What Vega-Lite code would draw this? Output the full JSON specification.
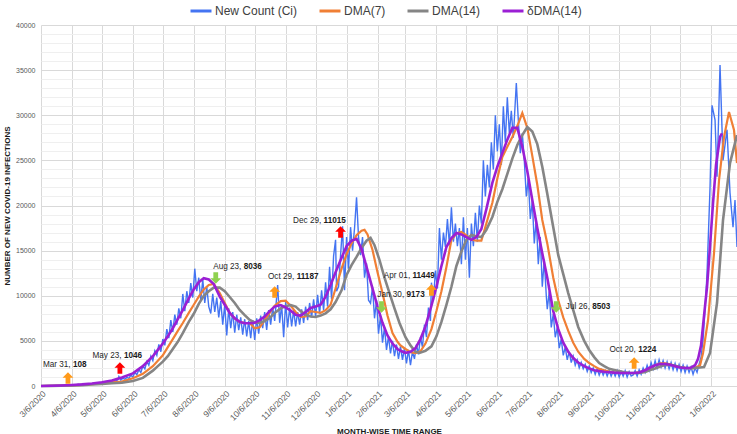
{
  "$schema": "https://vega.github.io/schema/vega-lite/v6.json",
  "width": 696,
  "height": 361,
  "autosize": {"type": "none"},
  "padding": {"left": 41, "top": 25, "right": 0, "bottom": 48},
  "background": "white",
  "config": {
    "font": "Liberation Sans",
    "view": {"stroke": null},
    "axis": {"labelFont": "Liberation Sans", "titleFont": "Liberation Sans"}
  },
  "datasets": {
    "ci": [
      {"d":"2020/03/06","v":0},{"d":"2020/03/09","v":2},{"d":"2020/03/12","v":8},{"d":"2020/03/15","v":20},{"d":"2020/03/18","v":35},{"d":"2020/03/21","v":50},{"d":"2020/03/24","v":70},{"d":"2020/03/27","v":90},{"d":"2020/03/29","v":80},{"d":"2020/03/31","v":108},
      {"d":"2020/04/02","v":90},{"d":"2020/04/04","v":130},{"d":"2020/04/06","v":110},{"d":"2020/04/08","v":150},{"d":"2020/04/10","v":120},{"d":"2020/04/12","v":170},{"d":"2020/04/14","v":140},{"d":"2020/04/16","v":190},{"d":"2020/04/18","v":160},{"d":"2020/04/20","v":220},{"d":"2020/04/22","v":180},{"d":"2020/04/24","v":250},{"d":"2020/04/26","v":210},{"d":"2020/04/28","v":280},{"d":"2020/04/30","v":240},
      {"d":"2020/05/02","v":320},{"d":"2020/05/04","v":280},{"d":"2020/05/06","v":380},{"d":"2020/05/08","v":330},{"d":"2020/05/10","v":450},{"d":"2020/05/12","v":390},{"d":"2020/05/14","v":520},{"d":"2020/05/16","v":460},{"d":"2020/05/18","v":600},{"d":"2020/05/20","v":540},{"d":"2020/05/22","v":700},{"d":"2020/05/23","v":1046},{"d":"2020/05/25","v":650},{"d":"2020/05/27","v":850},{"d":"2020/05/29","v":750},{"d":"2020/05/31","v":950},
      {"d":"2020/06/02","v":850},{"d":"2020/06/04","v":1200},{"d":"2020/06/06","v":1000},{"d":"2020/06/08","v":1500},{"d":"2020/06/10","v":1250},{"d":"2020/06/12","v":1800},{"d":"2020/06/14","v":1500},{"d":"2020/06/16","v":2200},{"d":"2020/06/18","v":1900},{"d":"2020/06/20","v":2700},{"d":"2020/06/22","v":2300},{"d":"2020/06/24","v":3300},{"d":"2020/06/26","v":2800},{"d":"2020/06/28","v":3900},{"d":"2020/06/30","v":3400},
      {"d":"2020/07/02","v":4600},{"d":"2020/07/04","v":3800},{"d":"2020/07/06","v":5200},{"d":"2020/07/08","v":4500},{"d":"2020/07/10","v":6300},{"d":"2020/07/12","v":5300},{"d":"2020/07/14","v":7300},{"d":"2020/07/16","v":6000},{"d":"2020/07/18","v":7900},{"d":"2020/07/20","v":6800},{"d":"2020/07/22","v":8600},{"d":"2020/07/24","v":7500},{"d":"2020/07/26","v":10200},{"d":"2020/07/28","v":8300},{"d":"2020/07/30","v":10500},
      {"d":"2020/08/01","v":9200},{"d":"2020/08/03","v":11400},{"d":"2020/08/05","v":9800},{"d":"2020/08/07","v":13000},{"d":"2020/08/09","v":10500},{"d":"2020/08/11","v":12000},{"d":"2020/08/13","v":9500},{"d":"2020/08/15","v":11800},{"d":"2020/08/17","v":9200},{"d":"2020/08/19","v":11000},{"d":"2020/08/21","v":8800},{"d":"2020/08/23","v":8036},{"d":"2020/08/25","v":10200},{"d":"2020/08/27","v":8200},{"d":"2020/08/29","v":9800},{"d":"2020/08/31","v":7600},
      {"d":"2020/09/02","v":9400},{"d":"2020/09/04","v":6800},{"d":"2020/09/06","v":9000},{"d":"2020/09/08","v":5600},{"d":"2020/09/10","v":8600},{"d":"2020/09/12","v":6400},{"d":"2020/09/14","v":8200},{"d":"2020/09/16","v":5900},{"d":"2020/09/18","v":7900},{"d":"2020/09/20","v":6200},{"d":"2020/09/22","v":7600},{"d":"2020/09/24","v":5700},{"d":"2020/09/26","v":7400},{"d":"2020/09/28","v":5500},{"d":"2020/09/30","v":7200},
      {"d":"2020/10/02","v":5300},{"d":"2020/10/04","v":7300},{"d":"2020/10/06","v":5100},{"d":"2020/10/08","v":7500},{"d":"2020/10/10","v":5800},{"d":"2020/10/12","v":7800},{"d":"2020/10/14","v":6400},{"d":"2020/10/16","v":8200},{"d":"2020/10/18","v":6200},{"d":"2020/10/20","v":8400},{"d":"2020/10/22","v":6800},{"d":"2020/10/24","v":8700},{"d":"2020/10/26","v":7200},{"d":"2020/10/29","v":11187},{"d":"2020/10/31","v":7000},
      {"d":"2020/11/02","v":9000},{"d":"2020/11/04","v":5400},{"d":"2020/11/06","v":9300},{"d":"2020/11/08","v":6500},{"d":"2020/11/10","v":8700},{"d":"2020/11/12","v":6600},{"d":"2020/11/14","v":8400},{"d":"2020/11/16","v":6600},{"d":"2020/11/18","v":8200},{"d":"2020/11/20","v":6800},{"d":"2020/11/22","v":8500},{"d":"2020/11/24","v":7000},{"d":"2020/11/26","v":8800},{"d":"2020/11/28","v":7300},{"d":"2020/11/30","v":9200},
      {"d":"2020/12/02","v":7600},{"d":"2020/12/04","v":9600},{"d":"2020/12/06","v":7700},{"d":"2020/12/08","v":10100},{"d":"2020/12/10","v":8000},{"d":"2020/12/12","v":10600},{"d":"2020/12/14","v":8400},{"d":"2020/12/16","v":11500},{"d":"2020/12/18","v":8800},{"d":"2020/12/20","v":13200},{"d":"2020/12/22","v":9600},{"d":"2020/12/24","v":14400},{"d":"2020/12/26","v":16200},{"d":"2020/12/27","v":10500},{"d":"2020/12/29","v":11015},{"d":"2020/12/31","v":14500},
      {"d":"2021/01/02","v":17700},{"d":"2021/01/04","v":10600},{"d":"2021/01/06","v":16500},{"d":"2021/01/08","v":13000},{"d":"2021/01/10","v":17600},{"d":"2021/01/12","v":15000},{"d":"2021/01/14","v":17500},{"d":"2021/01/16","v":20900},{"d":"2021/01/18","v":16500},{"d":"2021/01/20","v":14500},{"d":"2021/01/22","v":16500},{"d":"2021/01/24","v":12000},{"d":"2021/01/26","v":13600},{"d":"2021/01/28","v":9500},{"d":"2021/01/30","v":9173},
      {"d":"2021/02/01","v":11000},{"d":"2021/02/03","v":7500},{"d":"2021/02/05","v":9500},{"d":"2021/02/07","v":5800},{"d":"2021/02/09","v":7800},{"d":"2021/02/11","v":4800},{"d":"2021/02/13","v":6500},{"d":"2021/02/15","v":4000},{"d":"2021/02/17","v":5500},{"d":"2021/02/19","v":3600},{"d":"2021/02/21","v":5000},{"d":"2021/02/23","v":3300},{"d":"2021/02/25","v":4600},{"d":"2021/02/27","v":3000},
      {"d":"2021/03/01","v":4400},{"d":"2021/03/03","v":2900},{"d":"2021/03/05","v":4200},{"d":"2021/03/07","v":2500},{"d":"2021/03/09","v":4000},{"d":"2021/03/11","v":2300},{"d":"2021/03/13","v":3800},{"d":"2021/03/15","v":3000},{"d":"2021/03/17","v":4600},{"d":"2021/03/19","v":3500},{"d":"2021/03/21","v":5400},{"d":"2021/03/23","v":4300},{"d":"2021/03/25","v":6800},{"d":"2021/03/27","v":5400},{"d":"2021/03/29","v":8700},{"d":"2021/03/31","v":7200},
      {"d":"2021/04/01","v":11449},{"d":"2021/04/03","v":9500},{"d":"2021/04/05","v":12800},{"d":"2021/04/07","v":10800},{"d":"2021/04/09","v":17500},{"d":"2021/04/11","v":14000},{"d":"2021/04/13","v":17000},{"d":"2021/04/15","v":15400},{"d":"2021/04/17","v":18500},{"d":"2021/04/19","v":15600},{"d":"2021/04/21","v":19800},{"d":"2021/04/23","v":16000},{"d":"2021/04/25","v":18000},{"d":"2021/04/27","v":15500},{"d":"2021/04/29","v":17500},
      {"d":"2021/05/01","v":13500},{"d":"2021/05/03","v":18700},{"d":"2021/05/05","v":14000},{"d":"2021/05/07","v":17500},{"d":"2021/05/09","v":12000},{"d":"2021/05/11","v":18000},{"d":"2021/05/13","v":15500},{"d":"2021/05/15","v":19200},{"d":"2021/05/17","v":16000},{"d":"2021/05/19","v":20000},{"d":"2021/05/21","v":18000},{"d":"2021/05/23","v":25000},{"d":"2021/05/25","v":21000},{"d":"2021/05/27","v":24500},{"d":"2021/05/29","v":22000},{"d":"2021/05/31","v":27000},
      {"d":"2021/06/02","v":24000},{"d":"2021/06/04","v":30000},{"d":"2021/06/06","v":26000},{"d":"2021/06/08","v":29000},{"d":"2021/06/10","v":24500},{"d":"2021/06/12","v":31000},{"d":"2021/06/14","v":27000},{"d":"2021/06/16","v":32000},{"d":"2021/06/18","v":28000},{"d":"2021/06/20","v":30500},{"d":"2021/06/22","v":27500},{"d":"2021/06/25","v":33570},{"d":"2021/06/27","v":29500},{"d":"2021/06/29","v":25800},{"d":"2021/07/01","v":28000},
      {"d":"2021/07/03","v":25000},{"d":"2021/07/05","v":21000},{"d":"2021/07/07","v":23000},{"d":"2021/07/09","v":18500},{"d":"2021/07/11","v":20500},{"d":"2021/07/13","v":15800},{"d":"2021/07/15","v":18500},{"d":"2021/07/17","v":13500},{"d":"2021/07/19","v":16500},{"d":"2021/07/21","v":11000},{"d":"2021/07/23","v":14000},{"d":"2021/07/25","v":10000},{"d":"2021/07/26","v":8503},{"d":"2021/07/28","v":10500},{"d":"2021/07/30","v":6500},
      {"d":"2021/08/01","v":8000},{"d":"2021/08/03","v":5400},{"d":"2021/08/05","v":6500},{"d":"2021/08/07","v":4200},{"d":"2021/08/09","v":5200},{"d":"2021/08/11","v":3400},{"d":"2021/08/13","v":4300},{"d":"2021/08/15","v":2900},{"d":"2021/08/17","v":3800},{"d":"2021/08/19","v":2600},{"d":"2021/08/21","v":3300},{"d":"2021/08/23","v":2300},{"d":"2021/08/25","v":2900},{"d":"2021/08/27","v":2000},{"d":"2021/08/29","v":2600},{"d":"2021/08/31","v":1900},
      {"d":"2021/09/02","v":2400},{"d":"2021/09/04","v":1600},{"d":"2021/09/06","v":2200},{"d":"2021/09/08","v":1500},{"d":"2021/09/10","v":2000},{"d":"2021/09/12","v":1300},{"d":"2021/09/14","v":1900},{"d":"2021/09/16","v":1200},{"d":"2021/09/18","v":1800},{"d":"2021/09/20","v":1200},{"d":"2021/09/22","v":1700},{"d":"2021/09/24","v":1100},{"d":"2021/09/26","v":1700},{"d":"2021/09/28","v":1100},{"d":"2021/09/30","v":1600},
      {"d":"2021/10/02","v":1100},{"d":"2021/10/04","v":1700},{"d":"2021/10/06","v":1000},{"d":"2021/10/08","v":1600},{"d":"2021/10/10","v":1100},{"d":"2021/10/12","v":1700},{"d":"2021/10/14","v":1000},{"d":"2021/10/16","v":1600},{"d":"2021/10/18","v":1100},{"d":"2021/10/20","v":1224},{"d":"2021/10/22","v":1700},{"d":"2021/10/24","v":1100},{"d":"2021/10/26","v":1800},{"d":"2021/10/28","v":1300},{"d":"2021/10/30","v":2000},
      {"d":"2021/11/01","v":1500},{"d":"2021/11/03","v":2300},{"d":"2021/11/05","v":1700},{"d":"2021/11/07","v":2600},{"d":"2021/11/09","v":1900},{"d":"2021/11/11","v":2800},{"d":"2021/11/13","v":2000},{"d":"2021/11/15","v":2900},{"d":"2021/11/17","v":2100},{"d":"2021/11/19","v":2800},{"d":"2021/11/21","v":2000},{"d":"2021/11/23","v":2700},{"d":"2021/11/25","v":1900},{"d":"2021/11/27","v":2600},{"d":"2021/11/29","v":1800},
      {"d":"2021/12/01","v":2500},{"d":"2021/12/03","v":1700},{"d":"2021/12/05","v":2400},{"d":"2021/12/07","v":1600},{"d":"2021/12/09","v":2300},{"d":"2021/12/11","v":1500},{"d":"2021/12/13","v":2200},{"d":"2021/12/15","v":1500},{"d":"2021/12/17","v":2100},{"d":"2021/12/19","v":1300},{"d":"2021/12/21","v":2000},{"d":"2021/12/23","v":1500},{"d":"2021/12/25","v":2400},{"d":"2021/12/27","v":3200},{"d":"2021/12/29","v":5100},{"d":"2021/12/31","v":8500},
      {"d":"2022/01/02","v":12500},{"d":"2022/01/05","v":22000},{"d":"2022/01/07","v":31100},{"d":"2022/01/10","v":29500},{"d":"2022/01/12","v":23200},{"d":"2022/01/15","v":35570},{"d":"2022/01/18","v":25000},{"d":"2022/01/22","v":28400},{"d":"2022/01/25","v":21400},{"d":"2022/01/28","v":17600},{"d":"2022/01/30","v":20600},{"d":"2022/02/01","v":15400}
    ],
    "m7": [
      {"d":"2020/03/06","v":0},{"d":"2020/03/16","v":15},{"d":"2020/03/26","v":40},{"d":"2020/04/06","v":80},{"d":"2020/04/16","v":130},{"d":"2020/04/26","v":200},{"d":"2020/05/06","v":300},{"d":"2020/05/16","v":400},{"d":"2020/05/26","v":480},{"d":"2020/06/06","v":850},{"d":"2020/06/16","v":1350},{"d":"2020/06/26","v":2200},
      {"d":"2020/07/01","v":2800},{"d":"2020/07/06","v":3400},{"d":"2020/07/11","v":4300},{"d":"2020/07/16","v":5200},{"d":"2020/07/21","v":6100},{"d":"2020/07/26","v":6980},{"d":"2020/08/01","v":8100},{"d":"2020/08/06","v":9000},{"d":"2020/08/11","v":9900},{"d":"2020/08/16","v":10700},{"d":"2020/08/21","v":11200},{"d":"2020/08/26","v":11300},
      {"d":"2020/09/01","v":10300},{"d":"2020/09/06","v":9200},{"d":"2020/09/11","v":8090},{"d":"2020/09/16","v":7500},{"d":"2020/09/21","v":7090},{"d":"2020/09/26","v":7000},{"d":"2020/10/01","v":6980},{"d":"2020/10/06","v":6400},{"d":"2020/10/11","v":6500},{"d":"2020/10/16","v":7300},{"d":"2020/10/21","v":8100},{"d":"2020/10/26","v":8900},
      {"d":"2020/11/01","v":9400},{"d":"2020/11/06","v":9450},{"d":"2020/11/11","v":8900},{"d":"2020/11/16","v":8200},{"d":"2020/11/21","v":7650},{"d":"2020/11/26","v":7700},{"d":"2020/12/01","v":8300},{"d":"2020/12/06","v":8200},{"d":"2020/12/11","v":8100},{"d":"2020/12/16","v":8400},{"d":"2020/12/21","v":9000},{"d":"2020/12/26","v":10800},
      {"d":"2021/01/01","v":13000},{"d":"2021/01/06","v":14600},{"d":"2021/01/11","v":15800},{"d":"2021/01/16","v":16700},{"d":"2021/01/21","v":17200},{"d":"2021/01/24","v":17300},{"d":"2021/01/27","v":16800},{"d":"2021/02/01","v":15070},{"d":"2021/02/06","v":12600},{"d":"2021/02/11","v":10300},{"d":"2021/02/16","v":7800},{"d":"2021/02/21","v":5870},{"d":"2021/02/26","v":4900},
      {"d":"2021/03/01","v":4500},{"d":"2021/03/06","v":4100},{"d":"2021/03/11","v":3750},{"d":"2021/03/16","v":3650},{"d":"2021/03/21","v":3850},{"d":"2021/03/26","v":4700},{"d":"2021/04/01","v":6300},{"d":"2021/04/06","v":8300},{"d":"2021/04/11","v":10500},{"d":"2021/04/16","v":13190},{"d":"2021/04/21","v":16200},{"d":"2021/04/26","v":16900},
      {"d":"2021/05/01","v":17060},{"d":"2021/05/06","v":16700},{"d":"2021/05/11","v":16200},{"d":"2021/05/16","v":16100},{"d":"2021/05/21","v":16100},{"d":"2021/05/26","v":18000},{"d":"2021/06/01","v":20300},{"d":"2021/06/06","v":23000},{"d":"2021/06/11","v":25370},{"d":"2021/06/16","v":26500},{"d":"2021/06/21","v":27590},{"d":"2021/06/26","v":28800},
      {"d":"2021/07/01","v":30250},{"d":"2021/07/06","v":28600},{"d":"2021/07/11","v":25500},{"d":"2021/07/16","v":22300},{"d":"2021/07/21","v":18400},{"d":"2021/07/26","v":15800},{"d":"2021/08/01","v":12000},{"d":"2021/08/06","v":9500},{"d":"2021/08/11","v":7600},{"d":"2021/08/16","v":6100},{"d":"2021/08/21","v":4800},{"d":"2021/08/26","v":3800},
      {"d":"2021/09/01","v":3000},{"d":"2021/09/06","v":2550},{"d":"2021/09/11","v":2200},{"d":"2021/09/16","v":1900},{"d":"2021/09/21","v":1750},{"d":"2021/09/26","v":1600},{"d":"2021/10/01","v":1500},{"d":"2021/10/06","v":1440},{"d":"2021/10/11","v":1440},{"d":"2021/10/16","v":1440},{"d":"2021/10/21","v":1440},{"d":"2021/10/26","v":1500},
      {"d":"2021/11/01","v":1750},{"d":"2021/11/06","v":2000},{"d":"2021/11/11","v":2300},{"d":"2021/11/16","v":2500},{"d":"2021/11/21","v":2500},{"d":"2021/11/26","v":2400},{"d":"2021/12/01","v":2200},{"d":"2021/12/06","v":2100},{"d":"2021/12/11","v":2000},{"d":"2021/12/16","v":1990},{"d":"2021/12/21","v":1990},{"d":"2021/12/26","v":2300},{"d":"2021/12/29","v":3660},
      {"d":"2022/01/03","v":7310},{"d":"2022/01/09","v":14740},{"d":"2022/01/14","v":22800},{"d":"2022/01/19","v":27590},{"d":"2022/01/24","v":30360},{"d":"2022/01/29","v":28360},{"d":"2022/02/01","v":24700}
    ],
    "m14": [
      {"d":"2020/03/06","v":0},{"d":"2020/03/16","v":10},{"d":"2020/03/26","v":30},{"d":"2020/04/06","v":60},{"d":"2020/04/16","v":100},{"d":"2020/04/26","v":160},{"d":"2020/05/06","v":240},{"d":"2020/05/16","v":300},{"d":"2020/05/26","v":360},{"d":"2020/06/06","v":550},{"d":"2020/06/16","v":900},{"d":"2020/06/26","v":1700},
      {"d":"2020/07/01","v":2200},{"d":"2020/07/06","v":2700},{"d":"2020/07/11","v":3300},{"d":"2020/07/16","v":4100},{"d":"2020/07/21","v":4900},{"d":"2020/07/26","v":5870},{"d":"2020/08/01","v":7100},{"d":"2020/08/06","v":8000},{"d":"2020/08/11","v":9100},{"d":"2020/08/16","v":10000},{"d":"2020/08/21","v":10500},{"d":"2020/08/26","v":10900},
      {"d":"2020/09/01","v":10900},{"d":"2020/09/06","v":10500},{"d":"2020/09/11","v":9860},{"d":"2020/09/16","v":9200},{"d":"2020/09/21","v":8420},{"d":"2020/09/26","v":7850},{"d":"2020/10/01","v":7310},{"d":"2020/10/06","v":7050},{"d":"2020/10/11","v":6980},{"d":"2020/10/16","v":7200},{"d":"2020/10/21","v":7530},{"d":"2020/10/26","v":8100},
      {"d":"2020/11/01","v":8600},{"d":"2020/11/06","v":8850},{"d":"2020/11/11","v":8970},{"d":"2020/11/16","v":8800},{"d":"2020/11/21","v":8300},{"d":"2020/11/26","v":7900},{"d":"2020/12/01","v":7700},{"d":"2020/12/06","v":7650},{"d":"2020/12/11","v":7800},{"d":"2020/12/16","v":8050},{"d":"2020/12/21","v":8500},{"d":"2020/12/26","v":9300},
      {"d":"2021/01/01","v":10600},{"d":"2021/01/06","v":12300},{"d":"2021/01/11","v":13400},{"d":"2021/01/16","v":14300},{"d":"2021/01/21","v":15300},{"d":"2021/01/26","v":16100},{"d":"2021/01/30","v":16400},{"d":"2021/02/03","v":15600},{"d":"2021/02/08","v":13960},{"d":"2021/02/13","v":12000},{"d":"2021/02/18","v":10300},{"d":"2021/02/23","v":8600},{"d":"2021/02/28","v":6980},
      {"d":"2021/03/06","v":5400},{"d":"2021/03/11","v":4500},{"d":"2021/03/16","v":3800},{"d":"2021/03/20","v":3660},{"d":"2021/03/26","v":3900},{"d":"2021/04/01","v":4400},{"d":"2021/04/06","v":5500},{"d":"2021/04/11","v":7100},{"d":"2021/04/16","v":9000},{"d":"2021/04/21","v":11000},{"d":"2021/04/26","v":13300},
      {"d":"2021/05/01","v":14900},{"d":"2021/05/06","v":16200},{"d":"2021/05/11","v":16730},{"d":"2021/05/16","v":16600},{"d":"2021/05/21","v":16500},{"d":"2021/05/26","v":17300},{"d":"2021/06/01","v":18730},{"d":"2021/06/06","v":20400},{"d":"2021/06/11","v":21800},{"d":"2021/06/16","v":23500},{"d":"2021/06/21","v":25200},{"d":"2021/06/26","v":26700},
      {"d":"2021/07/01","v":27800},{"d":"2021/07/06","v":28700},{"d":"2021/07/11","v":28200},{"d":"2021/07/16","v":26800},{"d":"2021/07/21","v":24300},{"d":"2021/07/26","v":21300},{"d":"2021/08/01","v":17600},{"d":"2021/08/06","v":14500},{"d":"2021/08/11","v":12400},{"d":"2021/08/16","v":10300},{"d":"2021/08/21","v":8400},{"d":"2021/08/26","v":6540},
      {"d":"2021/09/01","v":5000},{"d":"2021/09/06","v":3990},{"d":"2021/09/11","v":3200},{"d":"2021/09/16","v":2550},{"d":"2021/09/21","v":2200},{"d":"2021/09/26","v":1900},{"d":"2021/10/01","v":1770},{"d":"2021/10/06","v":1650},{"d":"2021/10/11","v":1520},{"d":"2021/10/16","v":1450},{"d":"2021/10/21","v":1440},{"d":"2021/10/26","v":1440},
      {"d":"2021/11/01","v":1550},{"d":"2021/11/06","v":1770},{"d":"2021/11/11","v":1950},{"d":"2021/11/16","v":2150},{"d":"2021/11/21","v":2330},{"d":"2021/11/26","v":2350},{"d":"2021/12/01","v":2250},{"d":"2021/12/06","v":2100},{"d":"2021/12/11","v":2000},{"d":"2021/12/16","v":1990},{"d":"2021/12/21","v":2000},{"d":"2021/12/26","v":2050},{"d":"2021/12/30","v":2100},
      {"d":"2022/01/05","v":3660},{"d":"2022/01/12","v":9200},{"d":"2022/01/18","v":18390},{"d":"2022/01/25","v":24700},{"d":"2022/02/01","v":27800}
    ],
    "dm": [
      {"d":"2020/03/06","v":0},{"d":"2020/03/16","v":30},{"d":"2020/03/26","v":60},{"d":"2020/04/06","v":110},{"d":"2020/04/16","v":180},{"d":"2020/04/26","v":280},{"d":"2020/05/06","v":420},{"d":"2020/05/16","v":620},{"d":"2020/05/26","v":950},{"d":"2020/06/06","v":1400},{"d":"2020/06/16","v":2200},{"d":"2020/06/26","v":3300},
      {"d":"2020/07/01","v":4000},{"d":"2020/07/06","v":4700},{"d":"2020/07/11","v":5500},{"d":"2020/07/16","v":6400},{"d":"2020/07/21","v":7400},{"d":"2020/07/26","v":8420},{"d":"2020/08/01","v":9700},{"d":"2020/08/06","v":10700},{"d":"2020/08/11","v":11500},{"d":"2020/08/16","v":11950},{"d":"2020/08/21","v":11800},{"d":"2020/08/26","v":11300},
      {"d":"2020/09/01","v":9900},{"d":"2020/09/06","v":9000},{"d":"2020/09/11","v":8100},{"d":"2020/09/16","v":7500},{"d":"2020/09/21","v":7100},{"d":"2020/09/26","v":6950},{"d":"2020/10/01","v":6950},{"d":"2020/10/06","v":7000},{"d":"2020/10/11","v":7300},{"d":"2020/10/16","v":7700},{"d":"2020/10/21","v":8300},{"d":"2020/10/26","v":8800},
      {"d":"2020/11/01","v":8970},{"d":"2020/11/06","v":8700},{"d":"2020/11/11","v":8350},{"d":"2020/11/16","v":7900},{"d":"2020/11/21","v":7800},{"d":"2020/11/26","v":8200},{"d":"2020/12/01","v":8640},{"d":"2020/12/06","v":8800},{"d":"2020/12/11","v":9000},{"d":"2020/12/16","v":9900},{"d":"2020/12/21","v":11200},{"d":"2020/12/26","v":12600},
      {"d":"2021/01/01","v":14200},{"d":"2021/01/06","v":15500},{"d":"2021/01/11","v":16100},{"d":"2021/01/16","v":16300},{"d":"2021/01/21","v":15200},{"d":"2021/01/26","v":13200},{"d":"2021/02/01","v":10800},{"d":"2021/02/06","v":8800},{"d":"2021/02/11","v":7000},{"d":"2021/02/16","v":5600},{"d":"2021/02/21","v":4700},{"d":"2021/02/26","v":4100},
      {"d":"2021/03/01","v":3900},{"d":"2021/03/06","v":3680},{"d":"2021/03/11","v":3800},{"d":"2021/03/16","v":4200},{"d":"2021/03/21","v":5200},{"d":"2021/03/26","v":6600},{"d":"2021/04/01","v":8900},{"d":"2021/04/06","v":11000},{"d":"2021/04/11","v":13300},{"d":"2021/04/16","v":15400},{"d":"2021/04/21","v":16400},{"d":"2021/04/26","v":16950},
      {"d":"2021/05/01","v":16800},{"d":"2021/05/06","v":16500},{"d":"2021/05/11","v":16200},{"d":"2021/05/16","v":16500},{"d":"2021/05/21","v":17400},{"d":"2021/05/26","v":19600},{"d":"2021/06/01","v":22500},{"d":"2021/06/06","v":24300},{"d":"2021/06/11","v":25800},{"d":"2021/06/16","v":27300},{"d":"2021/06/21","v":28600},{"d":"2021/06/26","v":28600},
      {"d":"2021/07/01","v":26500},{"d":"2021/07/06","v":23800},{"d":"2021/07/11","v":20600},{"d":"2021/07/16","v":17500},{"d":"2021/07/21","v":14700},{"d":"2021/07/26","v":12000},{"d":"2021/08/01","v":8300},{"d":"2021/08/06","v":6300},{"d":"2021/08/11","v":4800},{"d":"2021/08/16","v":3800},{"d":"2021/08/21","v":3100},{"d":"2021/08/26","v":2600},
      {"d":"2021/09/01","v":2200},{"d":"2021/09/06","v":1950},{"d":"2021/09/11","v":1750},{"d":"2021/09/16","v":1650},{"d":"2021/09/21","v":1570},{"d":"2021/09/26","v":1530},{"d":"2021/10/01","v":1480},{"d":"2021/10/06","v":1450},{"d":"2021/10/11","v":1440},{"d":"2021/10/16","v":1440},{"d":"2021/10/21","v":1440},{"d":"2021/10/26","v":1500},
      {"d":"2021/11/01","v":1750},{"d":"2021/11/06","v":2050},{"d":"2021/11/11","v":2300},{"d":"2021/11/16","v":2440},{"d":"2021/11/21","v":2440},{"d":"2021/11/26","v":2350},{"d":"2021/12/01","v":2200},{"d":"2021/12/06","v":2050},{"d":"2021/12/11","v":1990},{"d":"2021/12/16","v":1990},{"d":"2021/12/21","v":2300},{"d":"2021/12/24","v":3000},{"d":"2021/12/27","v":4500},{"d":"2021/12/30","v":7800},
      {"d":"2022/01/02","v":10970},{"d":"2022/01/05","v":15500},{"d":"2022/01/08","v":20280},{"d":"2022/01/11","v":24500},{"d":"2022/01/15","v":27590},{"d":"2022/01/17","v":28000}
    ],
    "ann": [
      {"d":"2020/04/02","v":886,"ld":"2020/04/07","lv":2327,"pre":"Mar 31,","num":"108","kind":"rise"},
      {"d":"2020/05/24","v":1994,"ld":"2020/05/28","lv":3324,"pre":"May 23,","num":"1046","kind":"surge"},
      {"d":"2020/08/28","v":11966,"ld":"2020/09/25","lv":13185,"pre":"Aug 23,","num":"8036","kind":"fall"},
      {"d":"2020/10/26","v":10415,"ld":"2020/11/17","lv":12077,"pre":"Oct 29,","num":"11187","kind":"rise"},
      {"d":"2020/12/31","v":17063,"ld":"2020/12/14","lv":18282,"pre":"Dec 29,","num":"11015","kind":"surge"},
      {"d":"2021/02/10","v":8753,"ld":"2021/03/07","lv":10083,"pre":"Jan 30,","num":"9173","kind":"fall"},
      {"d":"2021/04/01","v":10637,"ld":"2021/03/13","lv":12188,"pre":"Apr 01,","num":"11449","kind":"rise"},
      {"d":"2021/08/04","v":8753,"ld":"2021/09/09","lv":8753,"pre":"Jul 26,","num":"8503","kind":"fall"},
      {"d":"2021/10/21","v":2548,"ld":"2021/10/25","lv":3989,"pre":"Oct 20,","num":"1224","kind":"rise"}
    ]
  },
  "encoding": {
    "x": {
      "field": "d", "type": "temporal",
      "scale": {"domain": [{"year": 2020, "month": 3, "date": 6}, {"year": 2022, "month": 2, "date": 1}]},
      "axis": {
        "values": [
          {"year":2020,"month":3,"date":6},{"year":2020,"month":4,"date":6},{"year":2020,"month":5,"date":6},{"year":2020,"month":6,"date":6},{"year":2020,"month":7,"date":6},{"year":2020,"month":8,"date":6},{"year":2020,"month":9,"date":6},{"year":2020,"month":10,"date":6},{"year":2020,"month":11,"date":6},{"year":2020,"month":12,"date":6},
          {"year":2021,"month":1,"date":6},{"year":2021,"month":2,"date":6},{"year":2021,"month":3,"date":6},{"year":2021,"month":4,"date":6},{"year":2021,"month":5,"date":6},{"year":2021,"month":6,"date":6},{"year":2021,"month":7,"date":6},{"year":2021,"month":8,"date":6},{"year":2021,"month":9,"date":6},{"year":2021,"month":10,"date":6},{"year":2021,"month":11,"date":6},{"year":2021,"month":12,"date":6},
          {"year":2022,"month":1,"date":6}
        ],
        "format": "%-m/%-d/%Y",
        "labelAngle": -45,
        "labelFontSize": 8.5,
        "labelColor": "#595959",
        "labelOverlap": false,
        "labelPadding": 3,
        "ticks": false,
        "domainColor": "#d9d9d9",
        "gridColor": "#d9d9d9",
        "title": "MONTH-WISE TIME RANGE",
        "titleFontSize": 8,
        "titleFontWeight": "bold",
        "titleColor": "#1a1a1a",
        "titleY": 41
      }
    },
    "y": {
      "field": "v", "type": "quantitative",
      "scale": {"domain": [0, 40000], "nice": false},
      "axis": {
        "values": [0,1000,2000,3000,4000,5000,6000,7000,8000,9000,10000,11000,12000,13000,14000,15000,16000,17000,18000,19000,20000,21000,22000,23000,24000,25000,26000,27000,28000,29000,30000,31000,32000,33000,34000,35000,36000,37000,38000,39000,40000],
        "format": "d",
        "labelExpr": "datum.value % 5000 === 0 ? datum.label : ''",
        "labelOverlap": false,
        "labelFontSize": 7,
        "labelColor": "#595959",
        "labelPadding": 6,
        "ticks": false,
        "tickSize": 0,
        "domain": false,
        "gridColor": {"condition": {"test": "datum.value % 5000 === 0", "value": "#d9d9d9"}, "value": "#efefef"},
        "title": "NUMBER OF NEW COVID-19 INFECTIONS",
        "titleFontSize": 8,
        "titleFontWeight": "bold",
        "titleColor": "#1a1a1a",
        "titleX": -34,
        "titleBaseline": "middle"
      }
    }
  },
  "layer": [
    {
      "data": {"name": "ci"},
      "mark": {"type": "line", "strokeWidth": 1.4},
      "encoding": {
        "color": {
          "datum": "New Count (Ci)", "type": "nominal",
          "scale": {"domain": ["New Count (Ci)", "DMA(7)", "DMA(14)", "δDMA(14)"], "range": ["#4474f2", "#f07f35", "#858585", "#9b1fd4"]},
          "legend": {
            "orient": "none", "legendX": 148, "legendY": -26, "direction": "horizontal",
            "title": null, "symbolType": "stroke", "symbolStrokeWidth": 3, "symbolSize": 441,
            "labelFontSize": 12, "labelColor": "#404040", "labelOffset": 2, "columnPadding": 15, "labelFont": "Liberation Sans"
          }
        }
      }
    },
    {
      "data": {"name": "m7"},
      "mark": {"type": "line", "strokeWidth": 2.2},
      "encoding": {"color": {"datum": "DMA(7)", "type": "nominal"}}
    },
    {
      "data": {"name": "m14"},
      "mark": {"type": "line", "strokeWidth": 2.6},
      "encoding": {"color": {"datum": "DMA(14)", "type": "nominal"}}
    },
    {
      "data": {"name": "dm"},
      "mark": {"type": "line", "strokeWidth": 2.6},
      "encoding": {"color": {"datum": "δDMA(14)", "type": "nominal"}}
    },
    {
      "data": {"name": "ann"},
      "mark": {"type": "point", "filled": true, "opacity": 1, "size": 130, "strokeWidth": 0},
      "encoding": {
        "fill": {"field": "kind", "type": "nominal", "scale": {"domain": ["rise", "surge", "fall"], "range": ["#ff9a1a", "#ff0000", "#8fd14f"]}, "legend": null},
        "shape": {"field": "kind", "type": "nominal", "scale": {"domain": ["rise", "surge", "fall"], "range": ["M0,-1L0.95,-0.05L0.42,-0.05L0.42,1L-0.42,1L-0.42,-0.05L-0.95,-0.05Z", "M0,-1L0.95,-0.05L0.42,-0.05L0.42,1L-0.42,1L-0.42,-0.05L-0.95,-0.05Z", "M0,1L0.95,0.05L0.42,0.05L0.42,-1L-0.42,-1L-0.42,0.05L-0.95,0.05Z"]}, "legend": null}
      }
    },
    {
      "data": {"name": "ann"},
      "mark": {"type": "text", "align": "right", "baseline": "middle", "dx": -2.3, "fontSize": 8.2, "color": "#262626"},
      "encoding": {"x": {"field": "ld", "type": "temporal"}, "y": {"field": "lv", "type": "quantitative"}, "text": {"field": "pre"}}
    },
    {
      "data": {"name": "ann"},
      "mark": {"type": "text", "align": "left", "baseline": "middle", "fontSize": 8.2, "fontWeight": "bold", "color": "#1a1a1a"},
      "encoding": {"x": {"field": "ld", "type": "temporal"}, "y": {"field": "lv", "type": "quantitative"}, "text": {"field": "num"}}
    }
  ]
}
